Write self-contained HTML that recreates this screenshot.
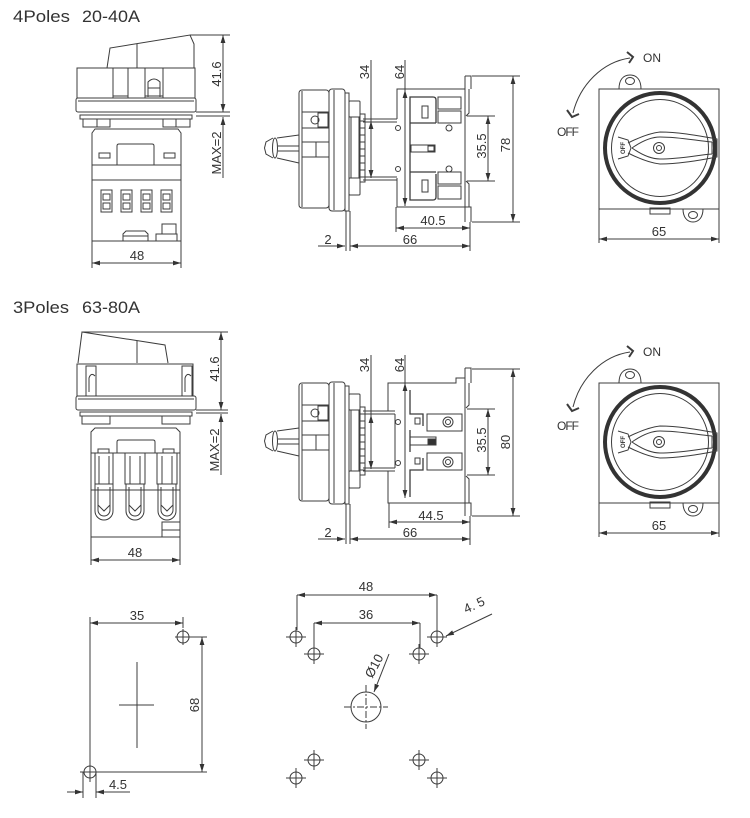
<!DOCTYPE html>
<html><head><meta charset="utf-8">
<style>
html,body{margin:0;padding:0;background:#fff;}
svg{display:block;}
text{font-family:"Liberation Sans",sans-serif;fill:#333;stroke:none;}
.b{marker-start:url(#ar);marker-end:url(#ar);}
.e{marker-end:url(#ar);}
.s{marker-start:url(#ar);}
.t{font-size:13px;text-anchor:middle;}
</style></head>
<body>
<svg width="750" height="818" viewBox="0 0 750 818" xmlns="http://www.w3.org/2000/svg">
<defs>
<marker id="ar" viewBox="0 0 10 6" refX="10" refY="3" markerWidth="8" markerHeight="5" markerUnits="userSpaceOnUse" orient="auto-start-reverse"><path d="M0,0 L10,3 L0,6 Z" fill="#333"/></marker>
<g id="hole"><circle cx="0" cy="0" r="6"/><path d="M-10,0 H10 M0,-10 V10"/></g>
<g id="hand">
<path d="M273,138 L266,142 L264.5,148 L266,154 L273,158"/>
<ellipse cx="275" cy="148" rx="2.5" ry="10"/>
<path d="M277,138 L299,135 M277,158 L299,163 M278,146 H299 M278,151 H299"/>
<rect x="299" y="90" width="30" height="118" rx="3"/>
<line x1="302" y1="91" x2="302" y2="207"/>
<path d="M302,112 H329 M302,128 H329 M302,142 H329 M302,157 H329 M316,142 V157"/>
<rect x="318" y="113" width="10" height="14"/>
<circle cx="315" cy="120" r="4"/>
<rect x="329" y="89" width="16" height="122" rx="3"/>
<line x1="334" y1="90" x2="334" y2="210"/>
<rect x="345" y="93" width="4" height="118"/>
<rect x="349" y="101" width="11" height="16" rx="1"/>
<rect x="349" y="178" width="11" height="17" rx="1"/>
<rect x="351" y="117" width="8" height="61"/>
<rect x="360" y="114" width="5" height="68"/>
<path d="M360,121 H365 M360,128 H365 M360,135 H365 M360,142 H365 M360,149 H365 M360,156 H365 M360,163 H365 M360,170 H365 M360,177 H365"/>
<path d="M346,211 V251 M350,211 V251"/>
</g>
<g id="front">
<rect x="599" y="89" width="120" height="120"/>
<path d="M619,89 C619,80 623,75 630,75 C637,75 641,80 641,89"/>
<ellipse cx="630" cy="81" rx="4.5" ry="3.5"/>
<path d="M683,209 C683,217 687,222 693,222 C699,222 703,217 703,209"/>
<ellipse cx="693" cy="215" rx="4.5" ry="3.5"/>
<rect x="650" y="208" width="20" height="6"/>
<circle cx="660" cy="148" r="55" stroke-width="4" stroke="#333"/>
<circle cx="660" cy="148" r="48.5"/>
<path d="M628,143 C640,137 650,133 660,132 C680,132 700,136 717,139 L717,157 C700,160 680,164 660,164 C650,163 640,159 628,153"/>
<path d="M632,148 C642,141 652,137 660,137 C680,137 698,141 712,142 M632,148 C642,155 652,159 660,159 C680,159 698,155 712,154 M712,142 V154"/>
<path d="M618,137 L628,140 L631,148 L628,156 L618,159"/>
<text transform="translate(625,148) rotate(-90)" font-size="6" font-weight="bold" text-anchor="middle">OFF</text>
<circle cx="659" cy="148" r="5.5"/>
<circle cx="659" cy="148" r="2.5"/>
<path d="M630,58 C602,62 580,85 573,113"/>
<path d="M627,52 L633,57 L629,63" stroke-width="2"/>
<path d="M567,110 L572,117 L579,114" stroke-width="2"/>
<text x="643" y="62" font-size="12">ON</text>
<text x="557" y="136" font-size="12" textLength="22">OFF</text>
<path d="M599,209 V243 M719,209 V243"/>
<line class="b" x1="599" y1="239" x2="719" y2="239"/>
<text class="t" x="659" y="236">65</text>
</g>
</defs>
<rect width="750" height="818" fill="#fff"/>

<text x="13" y="22" font-size="17" fill="#333" textLength="57" lengthAdjust="spacingAndGlyphs">4Poles</text>
<text x="82" y="22" font-size="17" fill="#333" textLength="58" lengthAdjust="spacingAndGlyphs">20-40A</text>
<text x="13" y="313" font-size="17" fill="#333" textLength="56" lengthAdjust="spacingAndGlyphs">3Poles</text>
<text x="82" y="313" font-size="17" fill="#333" textLength="58" lengthAdjust="spacingAndGlyphs">63-80A</text>

<g fill="none" stroke="#3c3c3c" stroke-width="1">

<!-- ===== 4P front ===== -->
<path d="M107,68 L110,48 L190,35 L194,44 L194,68"/>
<line x1="137" y1="44" x2="137" y2="68"/>
<rect x="77" y="68" width="118" height="30"/>
<path d="M113,68 V98 M128,68 V98 M113,96 H128 M145,68 V98 M163,68 V98 M145,96 H163"/>
<path d="M148,97 V82 Q154,76 160,82 V97 M148,88 H160"/>
<rect x="76" y="98" width="120" height="14" rx="2"/>
<line x1="78" y1="101" x2="194" y2="101"/>
<rect x="80" y="115" width="112" height="4"/>
<rect x="83" y="119" width="27" height="8"/>
<rect x="163" y="119" width="27" height="8"/>
<path d="M97,119 V127 M176,119 V127"/>
<path d="M92,241 V133 L95,129 H178 L181,133 V241 Z"/>
<path d="M92,165 H181 M92,180 H181"/>
<path d="M117,165 V146 Q117,144 119,144 H152 Q154,144 154,146 V165"/>
<rect x="99" y="153" width="11" height="5"/>
<rect x="164" y="153" width="11" height="5"/>
<rect x="101" y="190" width="11" height="22"/><rect x="103" y="194" width="7" height="6"/><rect x="103" y="203" width="7" height="6"/>
<rect x="121" y="190" width="11" height="22"/><rect x="123" y="194" width="7" height="6"/><rect x="123" y="203" width="7" height="6"/>
<rect x="141" y="190" width="11" height="22"/><rect x="143" y="194" width="7" height="6"/><rect x="143" y="203" width="7" height="6"/>
<rect x="161" y="190" width="11" height="22"/><rect x="163" y="194" width="7" height="6"/><rect x="163" y="203" width="7" height="6"/>
<path d="M123,241 V234 L126,231 H145 L148,234 V241 M123,236 H148"/>
<rect x="162" y="224" width="14" height="10"/>
<rect x="156" y="234" width="21" height="7"/>
<path d="M92,241 V268 M181,241 V268"/>
<line class="b" x1="92" y1="263" x2="181" y2="263"/>
<text class="t" x="137" y="260">48</text>
<path d="M190,35 H230 M196,112 H230 M196,116 H230"/>
<line class="b" x1="223" y1="35" x2="223" y2="112"/>
<line class="s" x1="223" y1="117" x2="223" y2="178"/>
<text class="t" transform="translate(221,74) rotate(-90)">41.6</text>
<text class="t" transform="translate(221,153) rotate(-90)">MAX=2</text>

<!-- ===== 4P side ===== -->
<use href="#hand"/>
<path d="M363,119 H397 M363,122 H397 M363,177 H397 M363,180 H397"/>
<path d="M371,60 V121"/>
<line class="b" x1="371" y1="121" x2="371" y2="178"/>
<text class="t" transform="translate(369,72) rotate(-90)">34</text>
<path d="M405,60 V90"/>
<line class="b" x1="405" y1="90" x2="405" y2="206"/>
<text class="t" transform="translate(404,72) rotate(-90)">64</text>
<path d="M397,119 V89 H465 M397,178 V207 H465"/>
<path d="M465,76 V222"/>
<path d="M465,76 H471 V89 M469,89 V113 L466,116 M466,181 L469,184 V207 M465,207 H471 V222"/>
<path d="M436,123 V100 Q436,97 433,97 H410 V200 H433 Q436,200 436,197 V174 M410,123 H436 M410,172 H436" stroke-width="1.3"/>
<rect x="422" y="106" width="6" height="12"/>
<rect x="422" y="180" width="6" height="12"/>
<rect x="438" y="97" width="23" height="12"/>
<rect x="438" y="111" width="23" height="12"/>
<rect x="438" y="172" width="23" height="12"/>
<rect x="438" y="186" width="23" height="13"/>
<circle cx="398" cy="128" r="2.5"/><circle cx="398" cy="169" r="2.5"/>
<circle cx="449" cy="128" r="3"/><circle cx="449" cy="169" r="3"/>
<rect x="411" y="145" width="24" height="7"/>
<rect x="428" y="146" width="6" height="5"/>
<path d="M467,116 H495 M467,181 H495 M472,76 H520 M472,222 H520"/>
<line class="b" x1="488" y1="116" x2="488" y2="181"/>
<line class="b" x1="513" y1="76" x2="513" y2="222"/>
<text class="t" transform="translate(486,146) rotate(-90)">35.5</text>
<text class="t" transform="translate(510,145) rotate(-90)">78</text>
<path d="M396,207 V232 M470,222 V251"/>
<line class="b" x1="396" y1="228" x2="470" y2="228"/>
<text class="t" x="433" y="225">40.5</text>
<line class="b" x1="350" y1="246" x2="470" y2="246"/>
<text class="t" x="410" y="244">66</text>
<line class="e" x1="318" y1="246" x2="345" y2="246"/>
<text class="t" x="328" y="244">2</text>

<!-- ===== 4P front knob view ===== -->
<use href="#front"/>

<!-- ===== 3P front ===== -->
<path d="M78,363 L82,332 L165,345 L168,363"/>
<line x1="137" y1="341" x2="137" y2="363"/>
<rect x="77" y="364" width="116" height="32"/>
<rect x="86" y="366" width="10" height="30"/>
<rect x="182" y="366" width="10" height="30"/>
<path d="M89,392 V378 Q91,372 95,376 M185,392 V378 Q187,372 191,376"/>
<rect x="76" y="396" width="120" height="14" rx="2"/>
<line x1="78" y1="399" x2="194" y2="399"/>
<rect x="80" y="412" width="112" height="4"/>
<rect x="82" y="416" width="28" height="8"/>
<rect x="162" y="416" width="28" height="8"/>
<path d="M91,537 V432 L95,428 H176 L180,432 V537 Z"/>
<path d="M91,453 H180 M91,490 H180"/>
<path d="M117,453 V442 Q117,440 119,440 H153 Q155,440 155,442 V453"/>
<rect x="98" y="449" width="11" height="4"/>
<rect x="163" y="449" width="11" height="4"/>
<rect x="95" y="453" width="18" height="31"/><path d="M99,456 V484 M109,456 V484"/>
<rect x="125" y="453" width="20" height="31"/><path d="M130,456 V484 M140,456 V484"/>
<rect x="157" y="453" width="20" height="31"/><path d="M162,456 V484 M172,456 V484"/>
<path d="M95,484 V511 A9,9 0 0 0 113,511 V484 M98,487 V510 A6,6 0 0 0 110,510 V487 M98,505 L104,511 L110,505"/>
<path d="M126,484 V511 A9,9 0 0 0 144,511 V484 M129,487 V510 A6,6 0 0 0 141,510 V487 M129,505 L135,511 L141,505"/>
<path d="M158,484 V511 A9,9 0 0 0 176,511 V484 M161,487 V510 A6,6 0 0 0 173,510 V487 M161,505 L167,511 L173,505"/>
<rect x="162" y="522" width="18" height="8"/>
<rect x="162" y="530" width="18" height="7"/>
<path d="M91,537 V565 M180,537 V565"/>
<line class="b" x1="91" y1="560" x2="180" y2="560"/>
<text class="t" x="135" y="557">48</text>
<path d="M83,332 H228 M196,410 H228 M196,413 H228"/>
<line class="b" x1="221" y1="332" x2="221" y2="410"/>
<line class="s" x1="221" y1="414" x2="221" y2="475"/>
<text class="t" transform="translate(219,369) rotate(-90)">41.6</text>
<text class="t" transform="translate(219,450) rotate(-90)">MAX=2</text>

<!-- ===== 3P side ===== -->
<use href="#hand" transform="translate(0,293)"/>
<path d="M363,411 H395 M363,414 H395 M363,468 H395 M363,471 H395"/>
<path d="M371,355 V415"/>
<line class="b" x1="371" y1="415" x2="371" y2="469"/>
<text class="t" transform="translate(369,365) rotate(-90)">34</text>
<path d="M405,355 V383"/>
<line class="b" x1="405" y1="383" x2="405" y2="498"/>
<text class="t" transform="translate(404,365) rotate(-90)">64</text>
<path d="M388,411 V383 H456 V378 H465 M388,471 V503 H465 M395,414 V468"/>
<path d="M465,368 V516"/>
<path d="M465,368 H471 V383 M469,383 V405 L466,408 M466,476 L469,479 V503 M465,503 H471 V516"/>
<path d="M410,390 V414 H423 V426 M410,497 V470 H423 V458 M410,430 V452" stroke-width="1.3"/>
<rect x="427" y="414" width="35" height="17"/>
<rect x="427" y="453" width="35" height="17"/>
<circle cx="448" cy="422" r="5"/><circle cx="448" cy="422" r="2.5"/>
<circle cx="448" cy="462" r="5"/><circle cx="448" cy="462" r="2.5"/>
<rect x="415" y="418" width="5" height="6"/>
<rect x="415" y="458" width="5" height="6"/>
<rect x="410" y="437" width="26" height="8"/>
<rect x="428" y="439" width="8" height="6" fill="#333"/>
<circle cx="398" cy="422" r="2.5"/><circle cx="398" cy="463" r="2.5"/>
<path d="M467,409 H495 M467,475 H495 M472,369 H520 M472,516 H520"/>
<line class="b" x1="488" y1="409" x2="488" y2="475"/>
<line class="b" x1="513" y1="369" x2="513" y2="516"/>
<text class="t" transform="translate(486,440) rotate(-90)">35.5</text>
<text class="t" transform="translate(510,442) rotate(-90)">80</text>
<path d="M389,503 V528 M470,516 V545"/>
<line class="b" x1="389" y1="522" x2="470" y2="522"/>
<text class="t" x="431" y="520">44.5</text>
<line class="b" x1="350" y1="539" x2="470" y2="539"/>
<text class="t" x="410" y="537">66</text>
<line class="e" x1="318" y1="539" x2="345" y2="539"/>
<text class="t" x="328" y="537">2</text>

<!-- ===== 3P front knob view ===== -->
<use href="#front" transform="translate(0,294)"/>

<!-- ===== bottom left template ===== -->
<path d="M90,617 V782 M183,617 V628"/>
<line class="b" x1="90" y1="623" x2="183" y2="623"/>
<text class="t" x="137" y="620">35</text>
<circle cx="183" cy="637" r="6"/>
<path d="M175,637 H207 M183,629 V645"/>
<circle cx="90" cy="772" r="6"/>
<path d="M80,772 H207"/>
<line class="b" x1="202" y1="637" x2="202" y2="772"/>
<text class="t" transform="translate(199,705) rotate(-90)">68</text>
<path d="M137,662 V748 M119,705 H154"/>
<path d="M83,772 V798 M96,772 V798"/>
<line class="e" x1="67" y1="792" x2="83" y2="792"/>
<line class="e" x1="112" y1="792" x2="96" y2="792"/>
<path d="M112,792 H130"/>
<text class="t" x="118" y="789">4.5</text>

<!-- ===== bottom right template ===== -->
<path d="M297,595 V630 M437,595 V630"/>
<line class="b" x1="297" y1="595" x2="437" y2="595"/>
<text class="t" x="366" y="591">48</text>
<path d="M314,623 V648 M420,623 V648"/>
<line class="b" x1="314" y1="623" x2="420" y2="623"/>
<text class="t" x="366" y="619">36</text>
<use href="#hole" x="296" y="637"/>
<use href="#hole" x="314" y="654"/>
<use href="#hole" x="419" y="654"/>
<use href="#hole" x="437" y="637"/>
<use href="#hole" x="314" y="760"/>
<use href="#hole" x="296" y="778"/>
<use href="#hole" x="419" y="760"/>
<use href="#hole" x="437" y="778"/>
<circle cx="366" cy="707" r="15"/>
<path d="M344,707 H388 M366,685 V729" stroke-dasharray="7,2,2,2"/>
<line class="e" x1="389" y1="654" x2="374" y2="692"/>
<text class="t" transform="translate(378,668) rotate(-62)">Ø10</text>
<line class="e" x1="492" y1="614" x2="446" y2="636"/>
<text class="t" transform="translate(476,609) rotate(-25)">4. 5</text>

</g>
</svg>
</body></html>
